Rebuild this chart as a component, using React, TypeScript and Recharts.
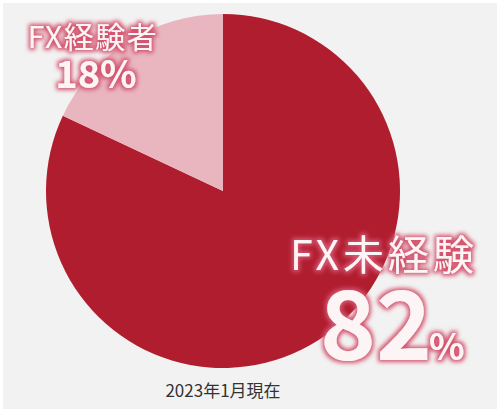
import { PieChart, Pie, Cell } from 'recharts'

const LABELS = ['FX未経験', 'FX経験者']
const VALUES = [82, 18]
const COLORS = ['#B01D2F', '#E9B6C0']
const CAPTION = '2023年1月現在'

const data = LABELS.map((name, i) => ({ name, value: VALUES[i] }))

const FONT = '"Noto Sans CJK JP", "Noto Sans", sans-serif'

export default function App() {
  return (
    <div style={{ position: 'fixed', left: 0, top: 0, width: 500, height: 412, background: '#fff' }}>
      <div style={{ position: 'absolute', left: 3, top: 3, width: 494, height: 406, background: '#F2F2F2' }} />
      <div style={{ position: 'absolute', left: 0, top: 0 }}>
        <PieChart width={500} height={412} margin={{ top: 0, right: 0, bottom: 0, left: 0 }}>
          <Pie
            data={data}
            dataKey="value"
            cx={223}
            cy={191}
            outerRadius={177}
            startAngle={90}
            endAngle={-270}
            stroke="none"
            isAnimationActive={false}
          >
            {data.map((entry, index) => (
              <Cell key={`cell-${index}`} fill={COLORS[index]} />
            ))}
          </Pie>
        </PieChart>
      </div>
      <svg width={500} height={412} style={{ position: 'absolute', left: 0, top: 0 }}>
        <defs>
          <filter id="glow" x="-20%" y="-30%" width="140%" height="160%">
            <feMorphology in="SourceAlpha" operator="dilate" radius="2" result="d" />
            <feFlood floodColor="#D4546F" result="c" />
            <feComposite in="c" in2="d" operator="in" result="o" />
            <feGaussianBlur in="o" stdDeviation="2" result="b" />
            <feMerge>
              <feMergeNode in="b" />
              <feMergeNode in="SourceGraphic" />
            </feMerge>
          </filter>
        </defs>
        <g filter="url(#glow)" fill="#FDF4F6" fontFamily={FONT}>
          <text x={93} y={48} textAnchor="middle" fontSize={30} letterSpacing={1.5}>{LABELS[1]}</text>
          <text x={96} y={88} textAnchor="middle" fontSize={38} fontWeight={700}>{VALUES[1]}%</text>
          <text x={384} y={270} textAnchor="middle" fontSize={41} letterSpacing={4}>{LABELS[0]}</text>
          <text x={320} y={360} fontSize={95} fontWeight={700}>
            {VALUES[0]}
            <tspan fontSize={37} dx={-3}>%</tspan>
          </text>
        </g>
        <text x={223} y={397} textAnchor="middle" fontSize={17} fill="#333" fontFamily={FONT}>{CAPTION}</text>
      </svg>
    </div>
  )
}
